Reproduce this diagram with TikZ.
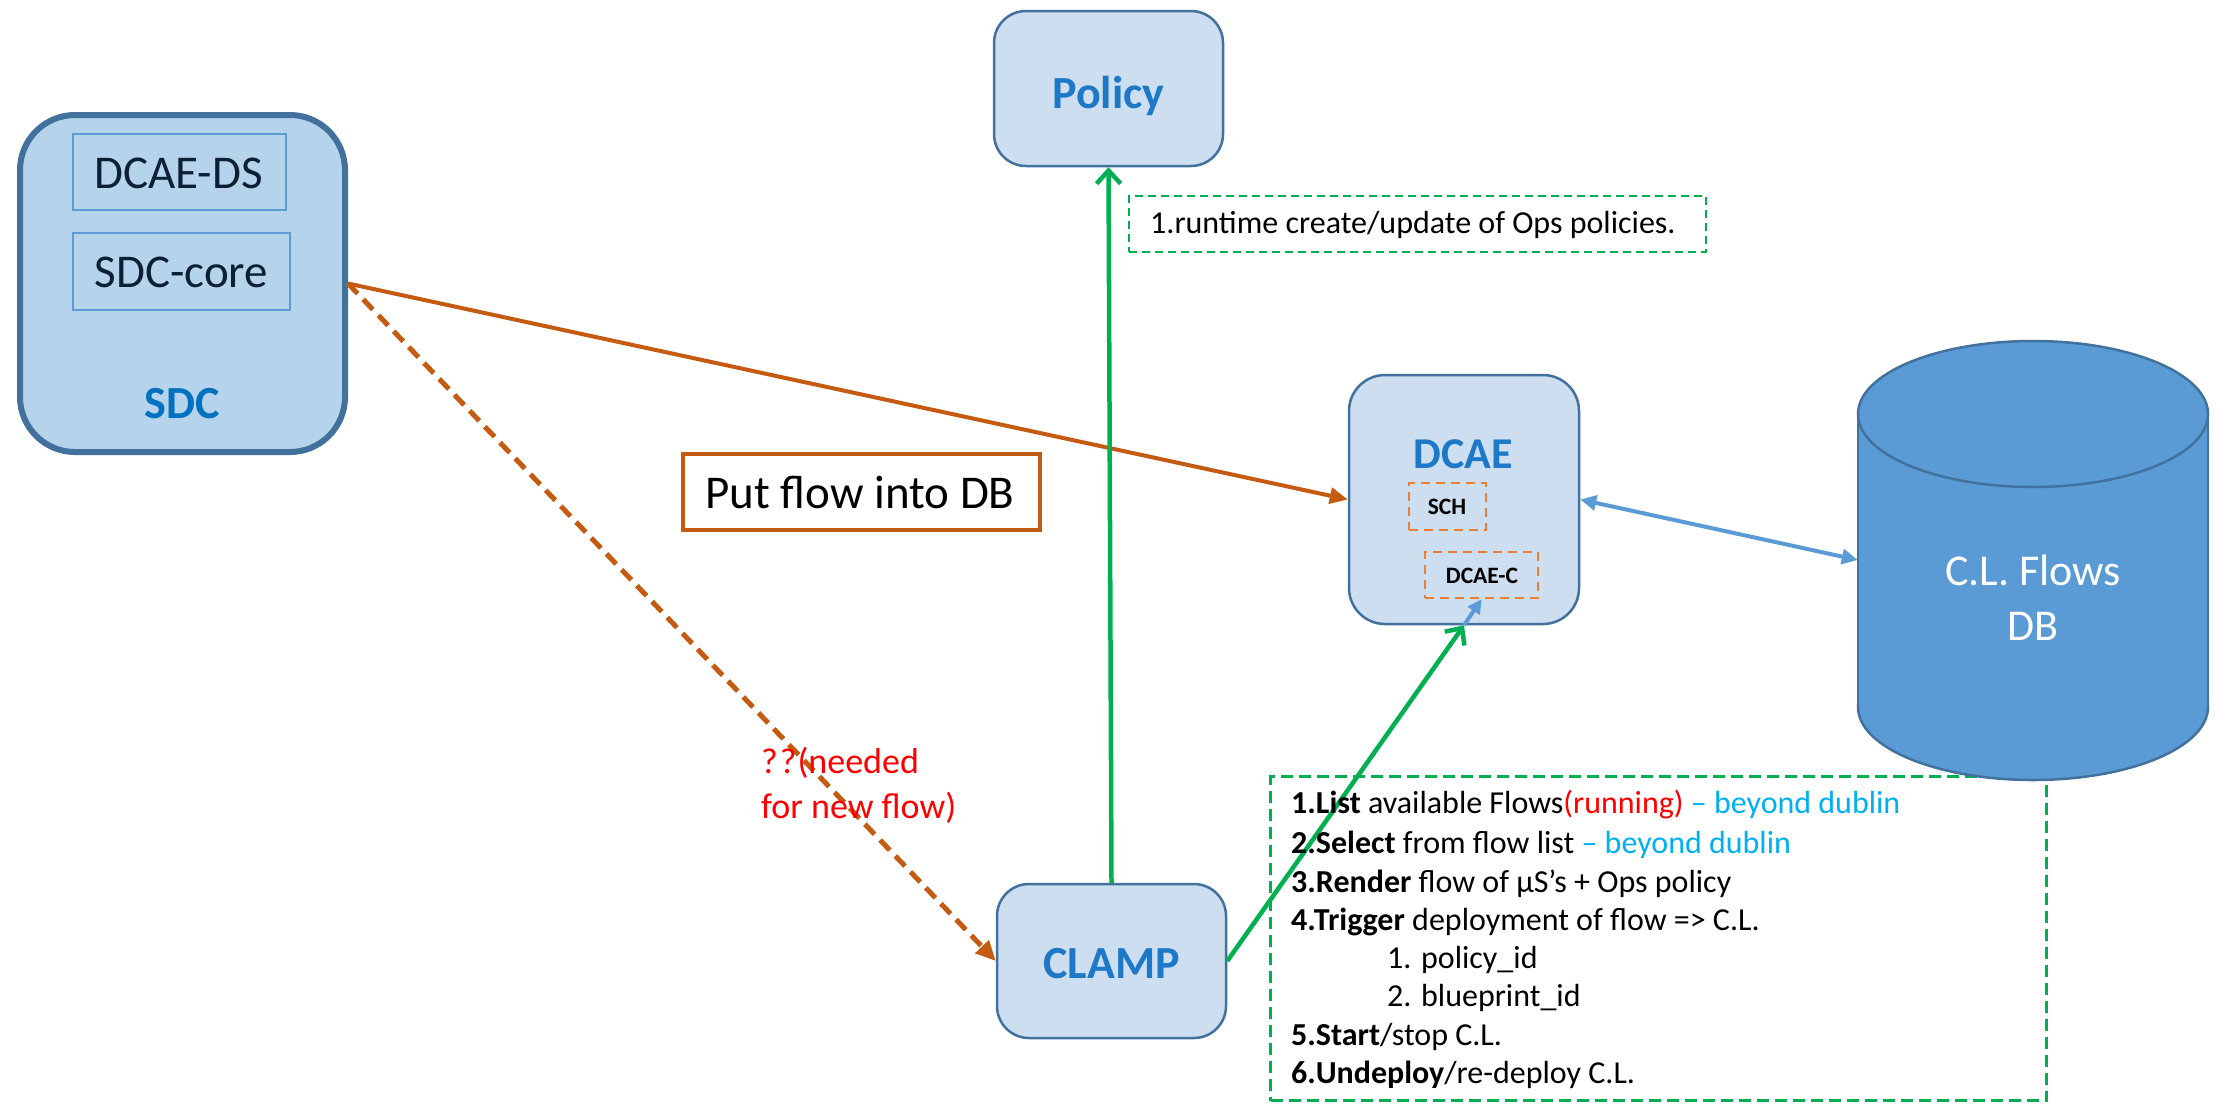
\documentclass[tikz,border=0pt]{standalone}
\usepackage{fontspec}
\setmainfont{Carlito}
\usetikzlibrary{arrows.meta}
\definecolor{boxfill}{HTML}{CCDEF0}
\definecolor{sdcfill}{HTML}{B5D4EC}
\definecolor{bordercol}{HTML}{41719C}
\definecolor{titleblue}{HTML}{1E78C8}
\definecolor{sdcblue}{HTML}{0070C0}
\definecolor{innerborder}{HTML}{5B9BD5}
\definecolor{darknavy}{HTML}{0D1F33}
\definecolor{dbfill}{HTML}{5B9BD5}
\definecolor{orangearrow}{HTML}{C55A11}
\definecolor{orangedash}{HTML}{ED7D31}
\definecolor{greenline}{HTML}{00B050}
\definecolor{redtext}{HTML}{FF0000}
\definecolor{cyantext}{HTML}{00B0F0}
\definecolor{bluearrow}{HTML}{5B9BD5}
\begin{document}
\begin{tikzpicture}[x=1pt,y=-1pt,
  bluebox/.style={draw=bordercol, line width=2.5pt, fill=boxfill, rounded corners=32pt, inner sep=0pt},
  sdcbox/.style={draw=bordercol, line width=6pt, fill=sdcfill, rounded corners=55pt, inner sep=0pt},
  innerbox/.style={draw=innerborder, line width=2pt, inner sep=0pt},
  subbox/.style={draw=orangedash, line width=2.5pt, dash pattern=on 9pt off 6pt, inner sep=0pt},
  titletext/.style={font=\fontsize{46}{55}\selectfont\bfseries, text=titleblue, inner sep=0pt, anchor=base},
  plaintext/.style={font=\fontsize{47}{56}\selectfont, text=darknavy, inner sep=0pt, anchor=base},
  smallbold/.style={font=\fontsize{23.5}{28}\selectfont\bfseries, text=black, inner sep=0pt, anchor=base},
  listtext/.style={font=\fontsize{32}{38}\selectfont, text=black, inner sep=0pt, anchor=base west},
  redlabel/.style={font=\fontsize{36}{44}\selectfont, text=redtext, inner sep=0pt, anchor=base west},
  greendash/.style={draw=greenline, line width=2pt, dash pattern=on 8pt off 5pt, inner sep=0pt},
  orangeline/.style={draw=orangearrow, line width=4pt, -{Triangle[length=18pt,width=16pt]}},
  greenarrow/.style={draw=greenline, line width=4.5pt, -{Straight Barb[length=13pt,width=24pt]}},
  bluedouble/.style={draw=bluearrow, line width=4pt, {Triangle[length=16pt,width=15pt]}-{Triangle[length=16pt,width=15pt]}},
  bluesingle/.style={draw=bluearrow, line width=4pt, -{Triangle[length=14pt,width=14pt]}}
]
\useasboundingbox (0,0) rectangle (2218,1104);
\fill[white] (0,0) rectangle (2218,1104);

% big dashed list box (drawn below the cylinder)
\node[draw=greenline, line width=3pt, dash pattern=on 12pt off 6pt, inner sep=0pt,
      minimum width=776pt, minimum height=324pt] (flowbox) at (1658.5,938.5) {};

% SDC
\node[sdcbox, minimum width=325pt, minimum height=337pt] (sdc) at (182.5,283.5) {};
\node[innerbox, minimum width=213pt, minimum height=76pt] (ds) at (179.5,172) {};
\node[plaintext] (dslbl) at (178.5,188) {DCAE-DS};
\node[innerbox, minimum width=217pt, minimum height=77pt] (core) at (181.5,271.5) {};
\node[plaintext] (corelbl) at (181.5,287) {SDC-core};
\node[titletext, text=sdcblue] (sdclbl) at (182,418) {SDC};

% Policy
\node[bluebox, minimum width=229pt, minimum height=155pt] (policy) at (1108.5,88.5) {};
\node[titletext] (policylbl) at (1108.5,108) {Policy};

% Policy note
\node[greendash, minimum width=577pt, minimum height=56pt] (note) at (1417.5,224) {};
\node[listtext] (notetxt) at (1150,233) {1.runtime create/update of Ops policies.};

% DCAE
\node[bluebox, rounded corners=36pt, minimum width=230pt, minimum height=249pt] (dcae) at (1464,499.5) {};
\node[titletext, font=\fontsize{44}{52}\selectfont\bfseries] (dcaelbl) at (1463,468) {DCAE};
\node[subbox, minimum width=77pt, minimum height=47pt] (sch) at (1447.5,506.5) {};
\node[smallbold] (schlbl) at (1447,514) {SCH};
\node[subbox, minimum width=113pt, minimum height=46pt] (dcaec) at (1481.5,575) {};
\node[smallbold] (dcaeclbl) at (1482,583) {DCAE-C};

% CLAMP
\node[bluebox, minimum width=229pt, minimum height=154pt] (clamp) at (1111.5,961) {};
\node[titletext] (clamplbl) at (1111.5,978) {CLAMP};

% Put flow into DB
\node[draw=orangearrow, line width=4pt, inner sep=0pt, minimum width=357pt, minimum height=76pt] (put) at (861.5,492) {};
\node[plaintext, text=black] (putlbl) at (860,508) {Put flow into DB};

% Cylinder database
\node[inner sep=0pt, minimum width=350pt, minimum height=439pt] (db) at (2033,560) {};
\fill[dbfill, draw=bordercol, line width=2.5pt] (2033,707) ellipse [x radius=175, y radius=73];
\fill[dbfill] (1858,414) rectangle (2208,707);
\draw[bordercol, line width=2.5pt] (1858,414) -- (1858,707) (2208,414) -- (2208,707);
\fill[dbfill, draw=bordercol, line width=2.5pt] (2033,414) ellipse [x radius=175, y radius=73];
\node[font=\fontsize{44}{55}\selectfont, text=white, inner sep=0pt, anchor=base] (dbl1) at (2033,585) {C.L. Flows};
\node[font=\fontsize{44}{55}\selectfont, text=white, inner sep=0pt, anchor=base] (dbl2) at (2033,640) {DB};

% connectors
\draw[orangeline] (sdc.east) -- (dcae.west);
\draw[orangeline, line width=5pt, dash pattern=on 14pt off 8pt, -{Triangle[length=20pt,width=18pt]}] (sdc.east) -- (clamp.west);
\draw[greenarrow] (clamp.north) -- (policy.south);
\draw[greenarrow] (clamp.east) -- (dcae.south);
\draw[bluesingle] (dcae.south) -- (dcaec.south);
\draw[bluedouble] (dcae.east) -- (db.west);

% red label
\node[redlabel] (red1) at (761,773) {?\kern2pt?\kern1pt(needed};
\node[redlabel] (red2) at (761,818) {for new flow)};

% list text
\node[listtext] (l1) at (1291,813) {\textbf{1.List} available Flows\textcolor{redtext}{(running)} \textcolor{cyantext}{– beyond dublin}};
\node[listtext] (l2) at (1291,853) {\textbf{2.Select} from flow list \textcolor{cyantext}{– beyond dublin}};
\node[listtext] (l3) at (1291,892) {\textbf{3.Render} flow of µS’s + Ops policy};
\node[listtext] (l4) at (1291,930) {\textbf{4.Trigger} deployment of flow => C.L.};
\node[listtext] (l5) at (1387,968) {1. policy\_id};
\node[listtext] (l6) at (1387,1006) {2. blueprint\_id};
\node[listtext] (l7) at (1291,1045) {\textbf{5.Start}/stop C.L.};
\node[listtext] (l8) at (1291,1083) {\textbf{6.Undeploy}/re-deploy C.L.};
\end{tikzpicture}
\end{document}
